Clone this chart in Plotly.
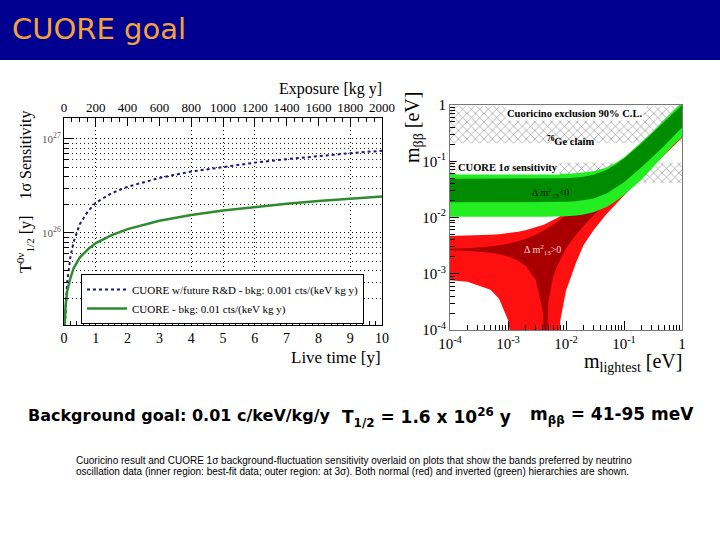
import numpy as np
import plotly.graph_objects as go

# ---- left plot: 1 sigma sensitivity vs live time ----
live_time_blue = [0.03, 0.05, 0.1, 0.2, 0.3, 0.5, 0.75, 1, 1.5, 2, 3, 4, 5, 6, 7, 8, 9, 10]
sens_blue_e26 = [0.105, 0.16, 0.3, 0.55, 0.8, 1.25, 1.7, 2.1, 2.65, 3.1, 3.85, 4.5, 5.05, 5.6, 6.1, 6.6, 7.05, 7.5]
live_time_green = [0.02, 0.05, 0.1, 0.2, 0.3, 0.5, 0.75, 1, 1.5, 2, 3, 4, 5, 6, 7, 8, 9, 10]
sens_green_e26 = [0.105, 0.17, 0.24, 0.33, 0.42, 0.55, 0.67, 0.78, 0.95, 1.1, 1.35, 1.55, 1.73, 1.9, 2.05, 2.19, 2.32, 2.45]
grid_live_time = [1, 4, 5, 6, 9]
blue_name = "CUORE w/future R&D - bkg: 0.001 cts/(keV kg y)"
green_name = "CUORE - bkg: 0.01 cts/(keV kg y)"

# ---- right plot: m_bb vs m_lightest ----
m_light = [1e-4, 2e-4, 5e-4, 7e-4, 1e-3, 1.5e-3, 2e-3, 3e-3, 4e-3, 4.4e-3, 5e-3, 6e-3, 7e-3,
           8e-3, 1e-2, 1.5e-2, 2e-2, 3e-2, 5e-2, 7e-2, 0.1, 0.2, 0.3, 0.5, 0.7, 1.0]
nh_outer_hi = [0.00467, 0.00473, 0.00492, 0.00505, 0.00524, 0.00557, 0.00592, 0.00663, 0.00737,
               0.00768, 0.00816, 0.00896, 0.00978, 0.01064, 0.01237, 0.0169, 0.0216, 0.0313,
               0.0507, 0.0706, 0.1005, 0.2, 0.3, 0.5, 0.7, 1.0]
nh_outer_lo = [7.7e-4, 7.2e-4, 5.2e-4, 3.6e-4, 1.5e-4, 1e-5, 1e-5, 1e-5, 1e-5, 1e-5, 1e-5, 1e-5, 1e-5,
               1.5e-4, 5e-4, 1.6e-3, 3.2e-3, 6.0e-3, 0.0115, 0.017, 0.025, 0.052, 0.078, 0.13, 0.18, 0.26]
nh_inner_hi = [0.00277, 0.00284, 0.00305, 0.00319, 0.00341, 0.00378, 0.00415, 0.00493, 0.00573,
               0.00606, 0.00657, 0.00741, 0.0083, 0.00919, 0.011, 0.01573, 0.02056, 0.0304,
               0.0502, 0.0705, 0.1, 0.2, 0.3, 0.5, 0.7, 1.0]
nh_inner_lo = [0.00263, 0.00257, 0.00236, 0.00223, 0.00203, 0.00171, 0.00139, 0.00079, 0.00021,
               1e-5, 0.00033, 0.00087, 0.00136, 0.00185, 0.0028, 0.00497, 0.00704, 0.011,
               0.0188, 0.0264, 0.0379, 0.076, 0.114, 0.19, 0.266, 0.38]
ih_outer_hi = [0.0592, 0.0592, 0.0592, 0.0592, 0.0592, 0.0592, 0.0592, 0.0592, 0.0593, 0.0593,
               0.0594, 0.0595, 0.0596, 0.0597, 0.06, 0.0611, 0.0625, 0.0664, 0.0775, 0.0918,
               0.1163, 0.215, 0.318, 0.55, 0.78, 1.12]
ih_outer_lo = [0.0103, 0.0103, 0.0103, 0.0103, 0.0103, 0.0103, 0.0103, 0.0103, 0.0103, 0.0103,
               0.0103, 0.0104, 0.0104, 0.0104, 0.0105, 0.0108, 0.0113, 0.0124, 0.0154, 0.0191,
               0.0252, 0.0471, 0.072, 0.13, 0.19, 0.27]
ih_inner_hi = [0.049, 0.049, 0.049, 0.049, 0.049, 0.049, 0.049, 0.0491, 0.0492, 0.0492, 0.0492,
               0.0494, 0.0495, 0.0496, 0.05, 0.0512, 0.0529, 0.0574, 0.07, 0.086, 0.1114,
               0.2059, 0.304, 0.5024, 0.7017, 1.0012]
ih_inner_lo = [0.0186, 0.0186, 0.0186, 0.0186, 0.0186, 0.0186, 0.0186, 0.0187, 0.0187, 0.0187,
               0.0187, 0.0188, 0.0188, 0.0189, 0.019, 0.0195, 0.0201, 0.0218, 0.0266, 0.0327,
               0.0423, 0.0782, 0.1155, 0.191, 0.27, 0.4]
cuoricino_band = [0.21, 0.95]
cuore_band = [0.041, 0.095]
m_light_span = [1e-4, 1.0]

SERIF = "Liberation Serif"
W, H = 720, 540


def px(x, y):
    return x / W, 1 - y / H


def band(lo, hi, **kwargs):
    xs = list(m_light) + list(m_light)[::-1]
    ys = list(hi) + list(lo)[::-1]
    return go.Scatter(x=xs, y=ys, fill="toself", mode="lines", line=dict(width=0),
                      xaxis="x4", yaxis="y2", hoverinfo="skip", showlegend=False, **kwargs)


def hatch_band(lims):
    xs = [m_light_span[0], m_light_span[1], m_light_span[1], m_light_span[0]]
    ys = [lims[0], lims[0], lims[1], lims[1]]
    return go.Scatter(x=xs, y=ys, fill="toself", mode="lines", line=dict(width=0),
                      fillcolor="rgba(0,0,0,0)",
                      fillpattern=dict(shape="x", fgcolor="#808080", bgcolor="white", size=6, solidity=0.18),
                      xaxis="x4", yaxis="y2", hoverinfo="skip", showlegend=False)


fig = go.Figure()

# empty traces so that the overlaid top axis and the grid axis get drawn
fig.add_trace(go.Scatter(x=[], y=[], xaxis="x2", yaxis="y", showlegend=False, hoverinfo="skip"))
fig.add_trace(go.Scatter(x=[], y=[], xaxis="x3", yaxis="y", showlegend=False, hoverinfo="skip"))

# left plot curves
fig.add_trace(go.Scatter(x=live_time_blue, y=np.array(sens_blue_e26) * 1e26, mode="lines",
                         line=dict(color="#1a1a7a", width=2, dash="dot"), name=blue_name,
                         xaxis="x", yaxis="y"))
fig.add_trace(go.Scatter(x=live_time_green, y=np.array(sens_green_e26) * 1e26, mode="lines",
                         line=dict(color="#2e8b2e", width=2.5), name=green_name,
                         xaxis="x", yaxis="y"))

# right plot bands
fig.add_trace(hatch_band(cuoricino_band))
fig.add_trace(hatch_band(cuore_band))
fig.add_trace(band(nh_outer_lo, nh_outer_hi, fillcolor="#ff1010"))
fig.add_trace(band(nh_inner_lo, nh_inner_hi, fillcolor="#a80000"))
fig.add_trace(band(ih_outer_lo, ih_outer_hi, fillcolor="#22ee22"))
fig.add_trace(band(ih_inner_lo, ih_inner_hi, fillcolor="#008c00"))

GRID_DASH = "1px,3px"
axis_common = dict(showline=True, linecolor="black", linewidth=1, ticks="inside",
                   tickcolor="black", showgrid=False, zeroline=False, automargin=False)

fig.update_layout(
    template="none",
    width=W, height=H, margin=dict(l=0, r=0, t=0, b=0, pad=0), autosize=False,
    paper_bgcolor="white", plot_bgcolor="rgba(0,0,0,0)",
    font=dict(family=SERIF, color="black"),
    xaxis=dict(domain=[64 / W, 382 / W], anchor="y", range=[0, 10], dtick=1, ticklen=8,
               tickfont=dict(size=14), minor=dict(dtick=0.2, ticks="inside", ticklen=4, tickcolor="black"),
               **axis_common),
    xaxis2=dict(overlaying="x", side="top", anchor="y", range=[0, 2000], dtick=200, ticklen=8,
                tickfont=dict(size=13), minor=dict(dtick=50, ticks="inside", ticklen=4, tickcolor="black"),
                **axis_common),
    xaxis3=dict(overlaying="x", anchor="y", range=[0, 10], tickmode="array", tickvals=grid_live_time,
                showticklabels=False, ticks="", showgrid=True, griddash=GRID_DASH, gridcolor="black",
                gridwidth=1, showline=False, zeroline=False, automargin=False),
    yaxis=dict(domain=[1 - 325 / H, 1 - 118 / H], anchor="x", type="log", range=[25.021, 27.223],
               tickmode="array", tickvals=[1e26, 1e27], ticktext=["10<sup>26</sup>", "10<sup>27</sup>"],
               tickfont=dict(size=11, color="#555"), ticklen=10, mirror=True, automargin=False,
               showline=True, linecolor="black", ticks="inside", tickcolor="black", zeroline=False,
               showgrid=True, griddash=GRID_DASH, gridcolor="black", gridwidth=1,
               minor=dict(dtick="D1", ticks="inside", ticklen=5, tickcolor="black", showgrid=True,
                          griddash=GRID_DASH, gridcolor="#222", gridwidth=1)),
    xaxis4=dict(domain=[450 / W, 682 / W], anchor="y2", type="log", range=[-4, 0], mirror=True,
                tickmode="array", tickvals=[1e-4, 1e-3, 1e-2, 1e-1, 1],
                ticktext=["10<sup>-4</sup>", "10<sup>-3</sup>", "10<sup>-2</sup>", "10<sup>-1</sup>", "1"],
                tickfont=dict(size=15), ticklen=9, layer="above traces", automargin=False,
                minor=dict(dtick="D1", ticks="inside", ticklen=5, tickcolor="black"),
                linecolor="#777", showline=True, ticks="inside", tickcolor="black",
                showgrid=False, zeroline=False),
    yaxis2=dict(domain=[1 - 330 / H, 1 - 105 / H], anchor="x4", type="log", range=[-4, 0], mirror=True,
                tickmode="array", tickvals=[1e-4, 1e-3, 1e-2, 1e-1, 1],
                ticktext=["10<sup>-4</sup>", "10<sup>-3</sup>", "10<sup>-2</sup>", "10<sup>-1</sup>", "1"],
                tickfont=dict(size=15), ticklen=9, layer="above traces", automargin=False,
                minor=dict(dtick="D1", ticks="inside", ticklen=5, tickcolor="black"),
                linecolor="#777", showline=True, ticks="inside", tickcolor="black",
                showgrid=False, zeroline=False),
    showlegend=True,
    legend=dict(x=81 / W, y=1 - 274 / H, xanchor="left", yanchor="top", bgcolor="white",
                bordercolor="black", borderwidth=1, font=dict(size=11, family=SERIF),
                itemwidth=40, tracegroupgap=0),
)

# title banner
fig.add_shape(type="rect", xref="paper", yref="paper", x0=0, x1=1, y0=1 - 60 / H, y1=1,
              fillcolor="#000090", line=dict(width=0), layer="below")


def label(text, x, y, size, anchor="left", **kwargs):
    ax, ay = px(x, y)
    fig.add_annotation(text=text, x=ax, y=ay, xref="paper", yref="paper", xanchor=anchor,
                       yanchor="middle", showarrow=False, font=dict(size=size, **kwargs.pop("font", {})),
                       **kwargs)


label("CUORE goal", 10, 29, 29, font=dict(family="Comic Sans MS, DejaVu Sans", color="#f2a43a"))

# left plot texts
label("Exposure [kg y]", 384, 89, 16, anchor="right")
label("Live time [y]", 383, 357, 17, anchor="right")
label("T<sup>0ν</sup><sub>1/2</sub> [y]    1σ Sensitivity", 25, 192, 16, anchor="center", textangle=-90)

# right plot texts
label("m<sub>ββ</sub> [eV]", 413, 128, 20, anchor="center", textangle=-90)
label("m<sub>lightest</sub> [eV]", 684, 362, 20, anchor="right")
fig.add_annotation(text="<b>Cuoricino exclusion 90% C.L.</b>", x=np.log10(1.4e-2), y=np.log10(0.72),
                   xref="x4", yref="y2", showarrow=False, font=dict(size=10.5, family=SERIF),
                   bgcolor="white")
fig.add_annotation(text="<b><sup>76</sup>Ge claim</b>", x=np.log10(1.2e-2), y=np.log10(0.235),
                   xref="x4", yref="y2", showarrow=False, font=dict(size=10.5, family=SERIF))
fig.add_annotation(text="<b>CUORE 1σ sensitivity</b>", x=np.log10(1.25e-4), y=np.log10(0.076),
                   xref="x4", yref="y2", xanchor="left", showarrow=False,
                   font=dict(size=10.5, family=SERIF), bgcolor="white")
fig.add_annotation(text="Δ m<sup>2</sup><sub>13</sub><0", x=np.log10(5.5e-3), y=np.log10(0.027),
                   xref="x4", yref="y2", showarrow=False, font=dict(size=10, family=SERIF, color="#111"))
fig.add_annotation(text="Δ m<sup>2</sup><sub>13</sub>>0", x=np.log10(3.9e-3), y=np.log10(0.0026),
                   xref="x4", yref="y2", showarrow=False, font=dict(size=10, family=SERIF, color="#ffd0d0"))

# bottom texts
bold = dict(family="DejaVu Sans", color="black")
label("<b>Background goal: 0.01 c/keV/kg/y</b>", 26, 415, 16, font=bold)
label("<b>T<sub>1/2</sub> = 1.6 x 10<sup>26</sup> y</b>", 340, 417, 17, font=bold)
label("<b>m<sub>ββ</sub> = 41-95 meV</b>", 528, 415, 17, font=bold)
cap = dict(family="Liberation Sans", color="black")
label("Cuoricino result and CUORE 1σ background-fluctuation sensitivity overlaid on plots that show the bands preferred by neutrino",
      74, 460, 10, font=cap)
label("oscillation data (inner region: best-fit data; outer region: at 3σ). Both normal (red) and inverted (green) hierarchies are shown.",
      74, 471, 10, font=cap)

fig.write_html("out.html", config={"displayModeBar": False},
               post_script="document.body.style.margin='0';document.body.style.overflow='hidden';")
